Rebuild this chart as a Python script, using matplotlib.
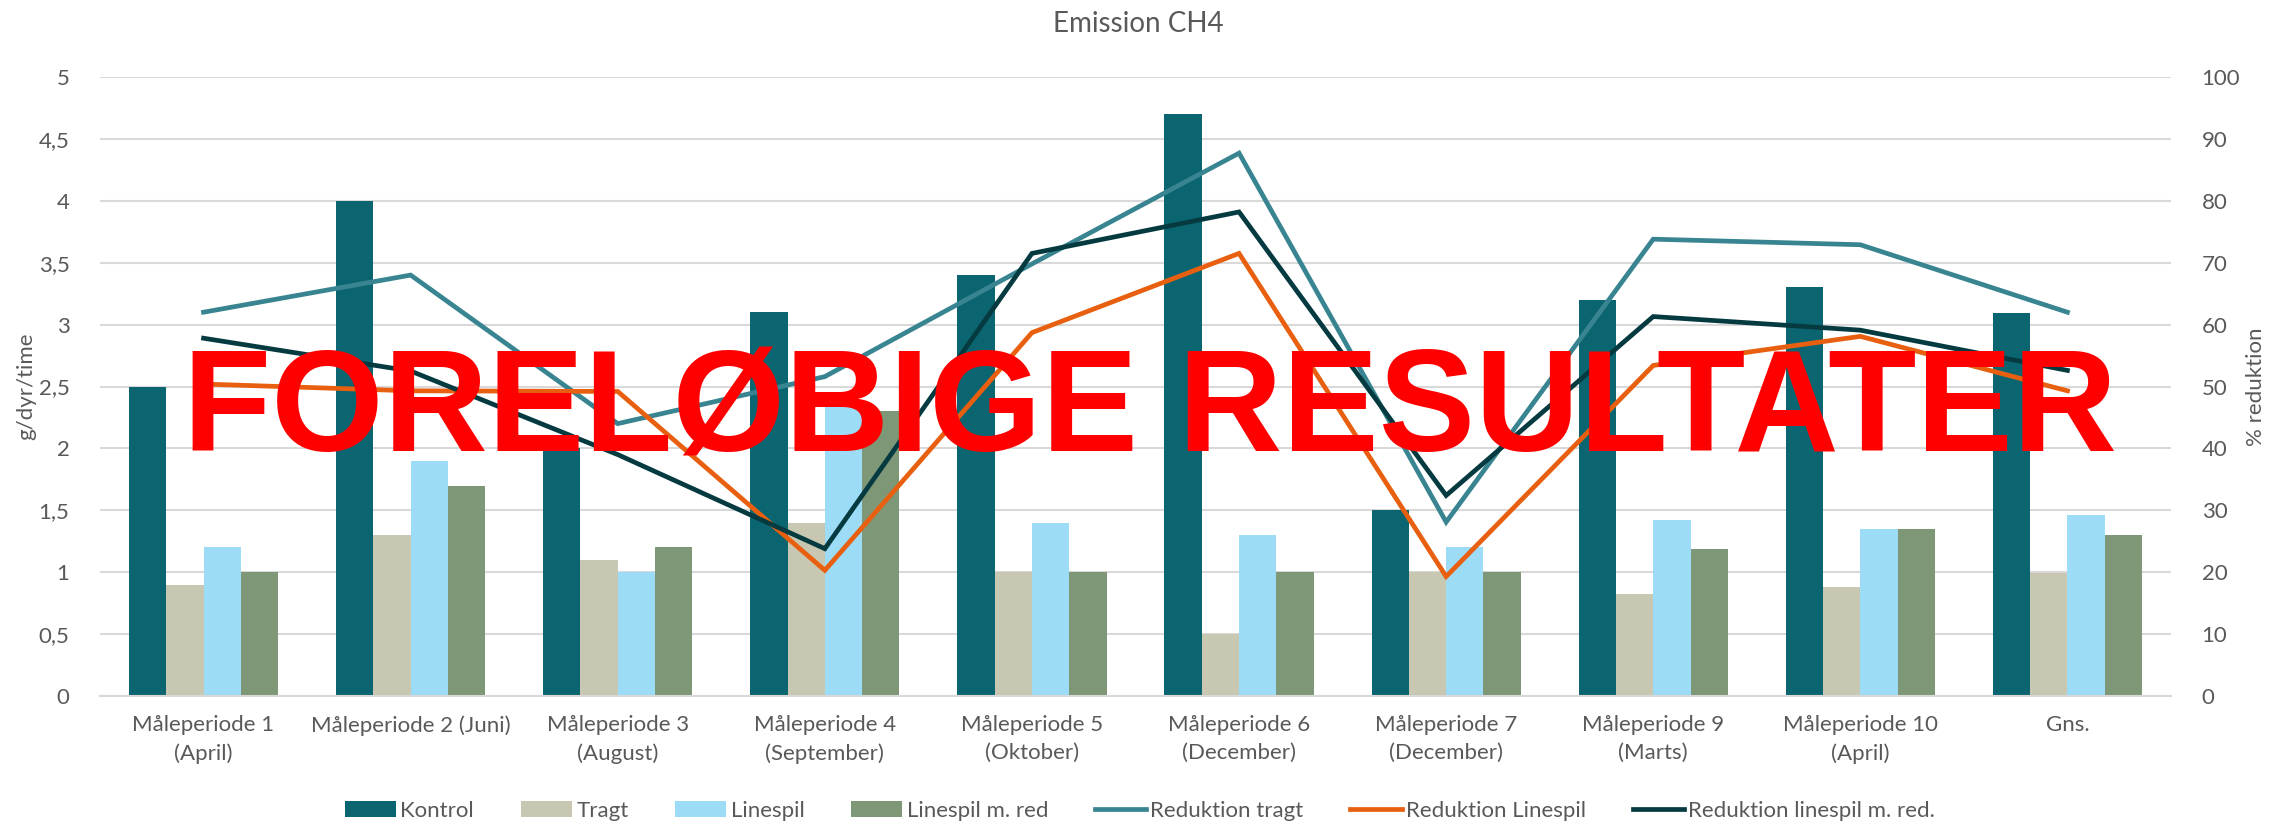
import numpy as np
import matplotlib
matplotlib.use("Agg")
import matplotlib.pyplot as plt
from matplotlib.ticker import FixedLocator, FuncFormatter

plt.rcParams['font.family'] = ['Lato', 'DejaVu Sans']

categories = ["Måleperiode 1\n(April)", "Måleperiode 2 (Juni)", "Måleperiode 3\n(August)",
              "Måleperiode 4\n(September)", "Måleperiode 5\n(Oktober)", "Måleperiode 6\n(December)",
              "Måleperiode 7\n(December)", "Måleperiode 9\n(Marts)", "Måleperiode 10\n(April)", "Gns."]
kontrol = [2.5, 4.0, 2.0, 3.1, 3.4, 4.7, 1.5, 3.2, 3.3, 3.09]
tragt = [0.9, 1.3, 1.1, 1.4, 1.0, 0.5, 1.0, 0.82, 0.88, 0.99]
linespil = [1.2, 1.9, 1.0, 2.35, 1.4, 1.3, 1.2, 1.42, 1.35, 1.46]
linespil_red = [1.0, 1.7, 1.2, 2.3, 1.0, 1.0, 1.0, 1.19, 1.35, 1.30]
red_tragt = [62.0, 68.0, 44.0, 51.6, 69.8, 87.7, 28.1, 73.8, 72.9, 62.0]
red_linespil = [50.4, 49.3, 49.2, 20.3, 58.7, 71.5, 19.3, 53.4, 58.1, 49.3]
red_linespil_red = [57.8, 52.5, 39.0, 23.8, 71.5, 78.2, 32.4, 61.3, 59.1, 52.6]

bar_series = [("Kontrol", kontrol, "#0B6570"), ("Tragt", tragt, "#C8C7B1"),
              ("Linespil", linespil, "#9DDCF7"), ("Linespil m. red", linespil_red, "#7E9877")]
line_series = [("Reduktion tragt", red_tragt, "#388591"),
               ("Reduktion Linespil", red_linespil, "#E8600F"),
               ("Reduktion linespil m. red.", red_linespil_red, "#053B40")]

TXT = "#595959"
W, H = 2290, 823
fig = plt.figure(figsize=(W / 100, H / 100), dpi=100)
ax = fig.add_axes([100 / W, 1 - 696 / H, (2171 - 100) / W, (696 - 77) / H])
ax2 = ax.twinx()

x = np.arange(len(categories))
bw = 0.18
handles = []
for i, (name, vals, col) in enumerate(bar_series):
    b = ax.bar(x + (i - 1.5) * bw, vals, width=bw, color=col, label=name, zorder=2, linewidth=0)
    handles.append(b)
for name, vals, col in line_series:
    l, = ax2.plot(x, vals, color=col, lw=3.4, label=name, solid_joinstyle='miter', zorder=3)
    handles.append(l)

ax.set_xlim(-0.5, len(categories) - 0.5)
ax.set_ylim(0, 5)
ax2.set_ylim(0, 100)
ax.yaxis.set_major_locator(FixedLocator(np.arange(0, 5.01, 0.5)))
ax.yaxis.set_major_formatter(FuncFormatter(lambda v, p: ("%g" % v).replace(".", ",")))
ax2.yaxis.set_major_locator(FixedLocator(np.arange(0, 101, 10)))
ax.grid(axis='y', color="#D9D9D9", lw=1.5, zorder=0)
ax.set_axisbelow(True)
for a in (ax, ax2):
    for s in a.spines.values():
        s.set_visible(False)
ax.spines['bottom'].set_visible(True)
ax.spines['bottom'].set_color("#D9D9D9")
ax.spines['bottom'].set_linewidth(1.5)

ax.set_xticks(x)
ax.set_xticklabels(categories, fontsize=16, color=TXT, linespacing=1.45)
ax.tick_params(axis='x', length=0, pad=14)
ax.tick_params(axis='y', length=0, pad=22, labelsize=16, labelcolor=TXT)
ax2.tick_params(axis='y', length=0, pad=22, labelsize=16, labelcolor=TXT)

ax.set_ylabel("g/dyr/time", fontsize=16, color=TXT)
ax2.set_ylabel("% reduktion", fontsize=16, color=TXT, rotation=90)
ax.yaxis.set_label_coords((26 - 100) / 2071, 0.5)
ax2.yaxis.set_label_coords((2256 - 100) / 2071, 0.5)
ax.yaxis.label.set_va('center')
ax2.yaxis.label.set_va('center')

fig.text(1138 / W, 1 - 24 / H, "Emission CH4", ha='center', va='center', fontsize=20, color=TXT)

leg = fig.legend(handles=handles, loc='center', bbox_to_anchor=(1140 / W, 1 - 811 / H), ncol=7,
                 frameon=False, fontsize=16, handlelength=2.3, handletextpad=0.2,
                 columnspacing=2.1, borderaxespad=0)
for t in leg.get_texts():
    t.set_color(TXT)

fig.text(1150 / W, 1 - 452 / H, "FORELØBIGE RESULTATER", ha='center', va='baseline',
         fontsize=104, fontweight='bold', color="#FF0000",
         family=['Liberation Sans', 'DejaVu Sans'], zorder=10)

fig.savefig("out.png", dpi=100)
